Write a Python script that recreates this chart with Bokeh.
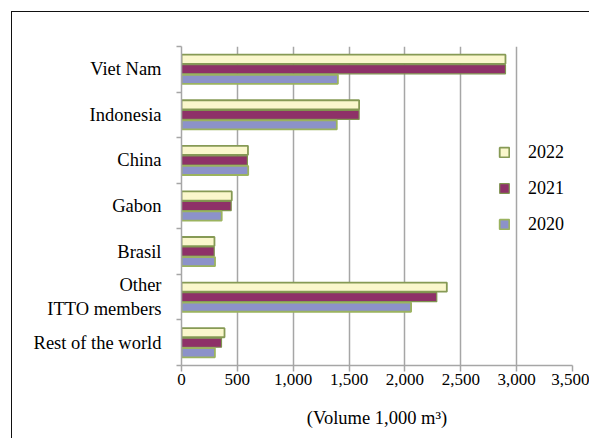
from bokeh.plotting import figure
from bokeh.models import Range1d, FixedTicker, NumeralTickFormatter, Legend, LegendItem
from bokeh.embed import file_html
from bokeh.resources import INLINE

categories = ["Viet Nam", "Indonesia", "China", "Gabon", "Brasil", "Other\nITTO members", "Rest of the world"]
years = ["2022", "2021", "2020"]
v2022 = [2900, 1590, 595, 450, 295, 2375, 385]
v2021 = [2900, 1590, 590, 445, 293, 2285, 358]
v2020 = [1400, 1390, 597, 360, 300, 2055, 299]
x_ticks = [0, 500, 1000, 1500, 2000, 2500, 3000, 3500]

n = len(categories)
centers = [n - i - 0.5 for i in range(n)]

FONT = "Liberation Serif"
GRID = "#a6a6a6"

p = figure(width=578, height=427, output_backend="svg", toolbar_location=None,
           x_range=Range1d(0, 3500), y_range=Range1d(0, n),
           min_border_left=169, min_border_right=18, min_border_top=34, min_border_bottom=74)
p.styles = {"margin-left": "11px", "margin-top": "11px",
            "border-top": "1px solid #111", "border-left": "1px solid #111"}
p.outline_line_color = None
p.background_fill_color = "white"
p.border_fill_color = "white"

series = [
    (v2022, 0.22, "#faf7cc", "#869a55", 1.8),
    (v2021, 0.0, "#8e3168", "#7f9450", 1.2),
    (v2020, -0.22, "#8c92c9", "#9bb35f", 1.8),
]
renderers = []
for vals, off, fill, line, lw in series:
    ys = [c + off for c in centers]
    r = p.hbar(y=ys, right=vals, left=0, height=0.2, fill_color=fill,
               line_color=line, line_width=lw)
    renderers.append(r)

legend = Legend(items=[LegendItem(label=y, renderers=[r]) for y, r in zip(years, renderers)],
                location=(317, 130), orientation="vertical")
legend.background_fill_alpha = 0
legend.border_line_color = None
legend.padding = 0
legend.margin = 0
legend.spacing = 14
legend.label_height = 22
legend.glyph_width = 12
legend.glyph_height = 12
legend.label_standoff = 18
legend.label_text_font = FONT
legend.label_text_font_size = "18px"
legend.label_text_color = "black"
p.add_layout(legend, "center")

# x axis
p.xaxis.ticker = FixedTicker(ticks=x_ticks)
p.xaxis.formatter = NumeralTickFormatter(format="0,0")
p.xaxis.axis_line_color = GRID
p.xaxis.axis_line_width = 1.5
p.xaxis.major_tick_line_color = GRID
p.xaxis.major_tick_line_width = 1.5
p.xaxis.major_tick_in = 0
p.xaxis.major_tick_out = 6
p.xaxis.minor_tick_line_color = None
p.xaxis.major_label_text_font = FONT
p.xaxis.major_label_text_font_size = "17px"
p.xaxis.major_label_text_color = "black"
p.xaxis.major_label_standoff = 2
p.xaxis.axis_label = "(Volume 1,000 m\u00b3)"
p.xaxis.axis_label_text_font = FONT
p.xaxis.axis_label_text_font_size = "18.5px"
p.xaxis.axis_label_text_font_style = "normal"
p.xaxis.axis_label_text_color = "black"
p.xaxis.axis_label_standoff = 20

# y axis
p.yaxis.ticker = FixedTicker(ticks=centers, minor_ticks=list(range(n + 1)))
p.yaxis.major_label_overrides = {c: lab for c, lab in zip(centers, categories)}
p.yaxis.axis_line_color = GRID
p.yaxis.axis_line_width = 1.5
p.yaxis.major_tick_line_color = None
p.yaxis.major_tick_in = 0
p.yaxis.major_tick_out = 0
p.yaxis.minor_tick_line_color = GRID
p.yaxis.minor_tick_line_width = 1.5
p.yaxis.minor_tick_in = 0
p.yaxis.minor_tick_out = 5
p.yaxis.major_label_text_font = FONT
p.yaxis.major_label_text_font_size = "18.5px"
p.yaxis.major_label_text_color = "black"
p.yaxis.major_label_standoff = 15

p.xgrid.grid_line_color = GRID
p.xgrid.grid_line_width = 1.5
p.ygrid.grid_line_color = None

open("out.html", "w").write(file_html(p, INLINE))
